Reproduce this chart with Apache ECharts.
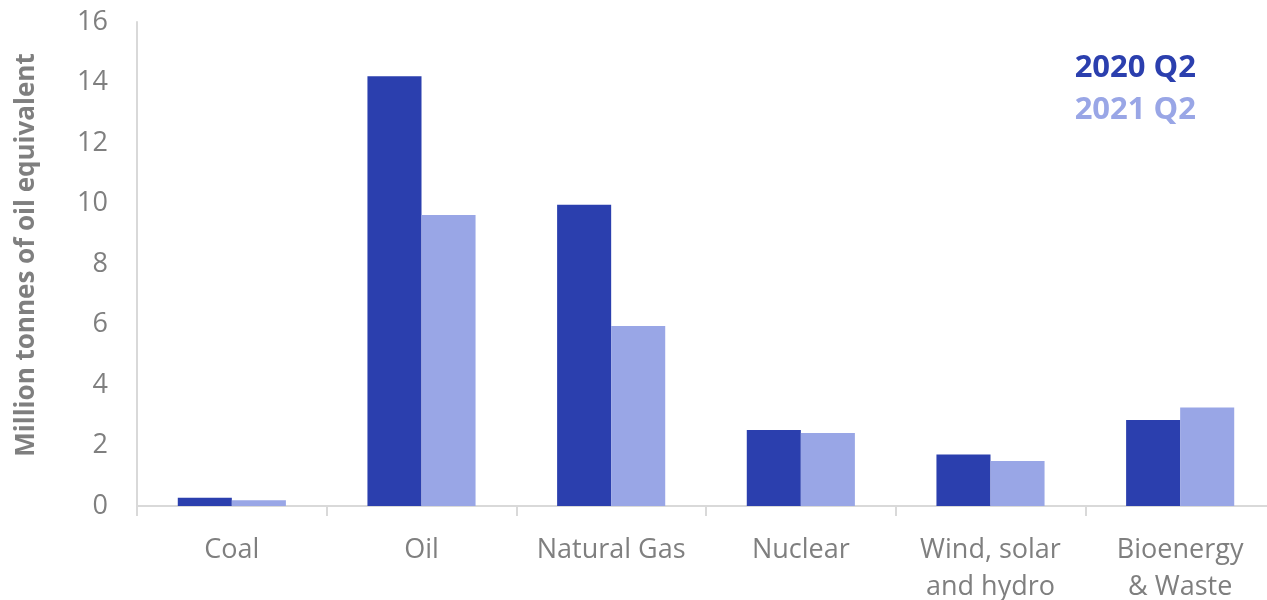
<!DOCTYPE html>
<html>
<head>
<meta charset="utf-8">
<script src="https://cdn.jsdelivr.net/npm/echarts@6/dist/echarts.min.js"></script>
<style>
  html, body { margin: 0; padding: 0; background: #fff; }
  #main { width: 1267px; height: 600px; }
</style>
</head>
<body>
<div id="main"></div>
<script>
// categories and values (million tonnes of oil equivalent)
var categories = ['Coal', 'Oil', 'Natural Gas', 'Nuclear', 'Wind, solar\nand hydro', 'Bioenergy\n& Waste'];
var q2020 = [0.27, 14.21, 9.96, 2.51, 1.70, 2.84];
var q2021 = [0.19, 9.62, 5.95, 2.41, 1.49, 3.26];
var yTicks = [0, 2, 4, 6, 8, 10, 12, 14, 16];

var dark = '#2b3fae';
var light = '#99a6e6';
var grey = '#7f7f7f';
var font = 'Open Sans';

var myChart = echarts.init(document.getElementById('main'));
var option = {
    animation: false,
    grid: { left: 137, top: 22, width: 1138, height: 484, outerBoundsMode: 'none' },
    legend: {
        orient: 'vertical',
        right: 66,
        top: 42,
        itemWidth: 0,
        itemHeight: 0,
        itemGap: 0,
        align: 'left',
        textStyle: { fontFamily: font, fontSize: 31, fontWeight: 'bold', padding: 0, lineHeight: 42 },
        data: [
            { name: '2020 Q2', icon: 'rect', textStyle: { color: dark } },
            { name: '2021 Q2', icon: 'rect', textStyle: { color: light } }
        ]
    },
    xAxis: {
        type: 'category',
        data: categories,
        axisLine: { lineStyle: { color: '#d9d9d9', width: 2 } },
        axisTick: { show: true, length: 10, lineStyle: { color: '#d9d9d9', width: 2 } },
        axisLabel: { color: grey, fontFamily: font, fontSize: 27, margin: 26, lineHeight: 37, interval: 0 }
    },
    yAxis: {
        type: 'value',
        min: yTicks[0],
        max: yTicks[yTicks.length - 1],
        interval: 2,
        name: 'Million tonnes of oil equivalent',
        nameLocation: 'middle',
        nameGap: 97,
        nameTextStyle: { color: grey, fontFamily: font, fontSize: 26, fontWeight: 'bold', padding: [0, 0, 0, 18] },
        axisLine: { show: true, lineStyle: { color: '#d9d9d9', width: 2 } },
        axisTick: { show: false },
        splitLine: { show: false },
        axisLabel: { color: grey, fontFamily: font, fontSize: 27, margin: 29 }
    },
    series: [
        {
            name: '2020 Q2',
            type: 'bar',
            data: q2020,
            barGap: '0%',
            barCategoryGap: '43%',
            itemStyle: { color: dark }
        },
        {
            name: '2021 Q2',
            type: 'bar',
            data: q2021,
            itemStyle: { color: light }
        }
    ]
};
myChart.setOption(option);
</script>
</body>
</html>
